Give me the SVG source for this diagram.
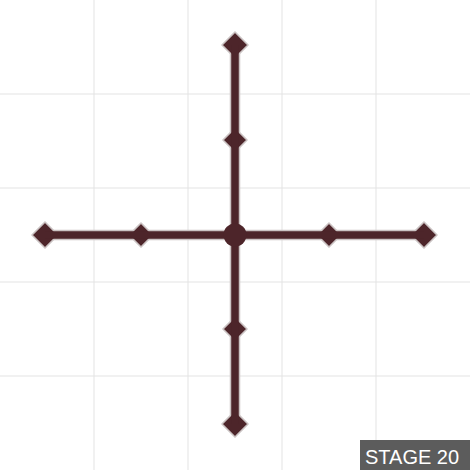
<svg xmlns="http://www.w3.org/2000/svg" width="470" height="470" viewBox="0 0 470 470">
<style>
.grid{stroke:#e3e3e3;stroke-width:1}
.halo{stroke:#cbc3c3;stroke-width:10.5;fill:none}
.line{stroke:#4d252a;stroke-width:7.5;fill:none}
.node{fill:#4d252a;stroke:#cbc3c3;stroke-width:1.6;stroke-linejoin:round}
.lbl{font-family:"Liberation Sans",Arial,sans-serif;font-size:20px;fill:#ffffff}
</style>
<defs>
<polygon id="d" points="0,-13 13,0 0,13 -13,0"/>
<polygon id="dm" points="0,-12 12,0 0,12 -12,0"/>
</defs>
<rect width="470" height="470" fill="#ffffff"/>
<g id="grid">
<line class="grid" x1="94" y1="0" x2="94" y2="470"/>
<line class="grid" x1="188" y1="0" x2="188" y2="470"/>
<line class="grid" x1="282" y1="0" x2="282" y2="470"/>
<line class="grid" x1="376" y1="0" x2="376" y2="470"/>
<line class="grid" x1="0" y1="94" x2="470" y2="94"/>
<line class="grid" x1="0" y1="188" x2="470" y2="188"/>
<line class="grid" x1="0" y1="282" x2="470" y2="282"/>
<line class="grid" x1="0" y1="376" x2="470" y2="376"/>
</g>
<g id="connector-halo">
<line class="halo" x1="235" y1="45" x2="235" y2="424"/>
<line class="halo" x1="45" y1="235" x2="424" y2="235"/>
</g>
<g id="n-top"><use href="#d" class="node" x="235" y="45"/></g>
<g id="n-top2"><use href="#dm" class="node" x="235" y="140"/></g>
<g id="n-bot2"><use href="#dm" class="node" x="235" y="329"/></g>
<g id="n-bot"><use href="#d" class="node" x="235" y="424"/></g>
<g id="n-left"><use href="#d" class="node" x="45" y="235"/></g>
<g id="n-left2"><use href="#dm" class="node" x="141" y="235"/></g>
<g id="n-right2"><use href="#dm" class="node" x="329" y="235"/></g>
<g id="n-right"><use href="#d" class="node" x="424" y="235"/></g>
<g id="connectors">
<line class="line" x1="235" y1="45" x2="235" y2="424"/>
<line class="line" x1="45" y1="235" x2="424" y2="235"/>
</g>
<g id="n-center"><circle cx="235" cy="235" r="11.5" fill="#4d252a"/></g>
<g id="stage">
<rect x="360" y="440" width="110" height="30" fill="#5c5c5c"/>
<text class="lbl" x="365" y="464">STAGE 20</text>
</g>
</svg>
